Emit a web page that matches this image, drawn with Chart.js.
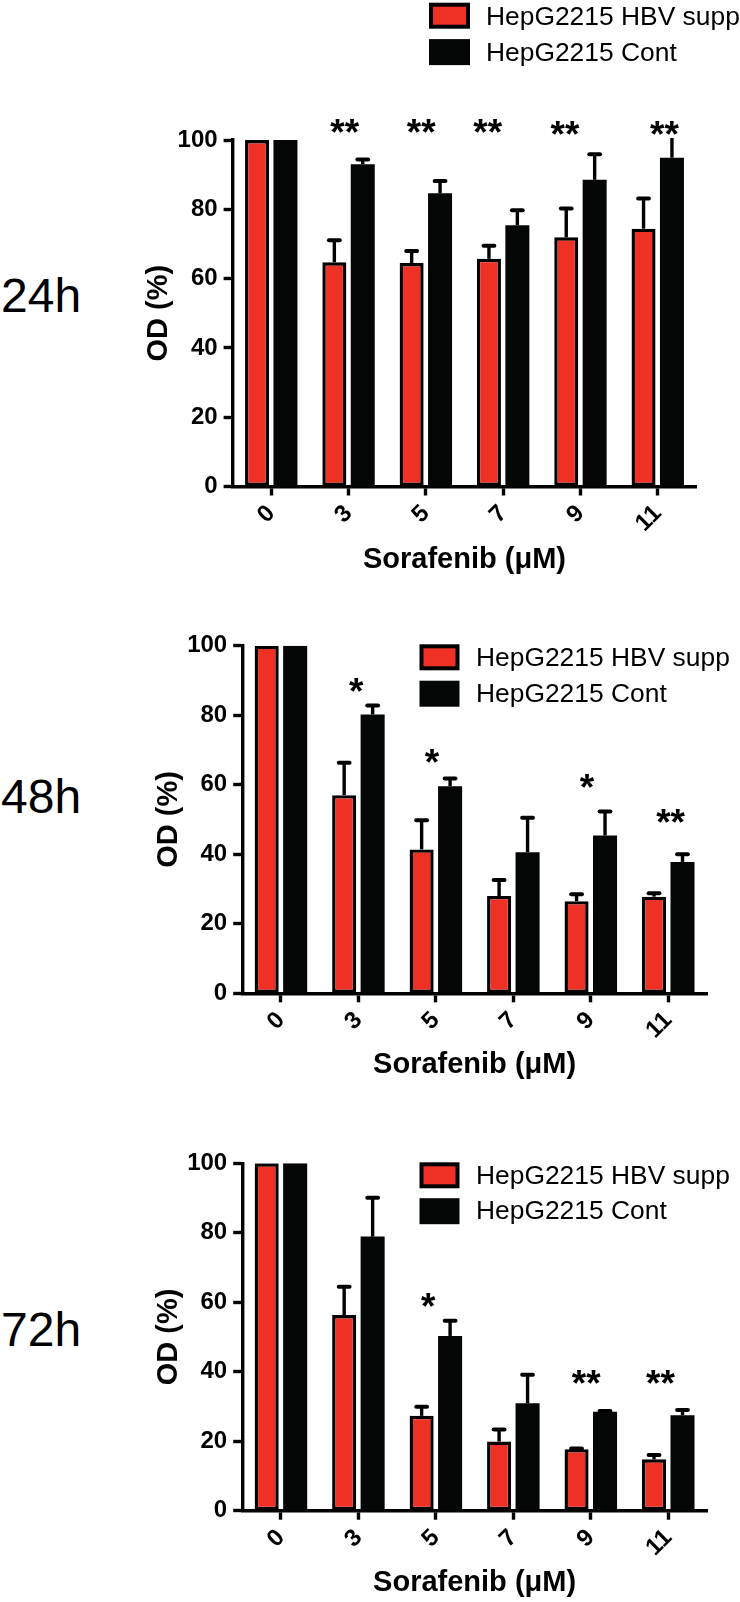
<!DOCTYPE html>
<html>
<head>
<meta charset="utf-8">
<script src="https://cdn.jsdelivr.net/npm/chart.js@4.4.1/dist/chart.umd.min.js"></script>
<style>
html,body{margin:0;padding:0;background:#fff;}
#wrap{position:relative;width:740px;height:1602px;overflow:hidden;background:#fff;}
canvas{position:absolute;left:0;top:0;}
.tlab{position:absolute;left:1px;font-family:'Liberation Sans',Arial,Helvetica,sans-serif;font-size:48px;line-height:48px;color:#000;white-space:nowrap;}
</style>
</head>
<body>
<div id="wrap">
  <div class="tlab" style="top:272px">24h</div>
  <div class="tlab" style="top:773px">48h</div>
  <div class="tlab" style="top:1306px">72h</div>
  <canvas id="c1" width="740" height="1602"></canvas>
  <canvas id="c2" width="740" height="1602"></canvas>
  <canvas id="c3" width="740" height="1602"></canvas>
</div>
<script>
// ---------- DATA ----------
const categories = ['0', '3', '5', '7', '9', '11'];
const seriesNames = ['HepG2215 HBV supp', 'HepG2215 Cont'];
const yTicks = [0, 20, 40, 60, 80, 100];

// 24h
const hbv24     = [100, 64.7, 64.5, 65.7, 71.9, 74.4];
const hbv24Err  = [0,   6.4,  3.5,  3.8,  8.3,  8.7];
const cont24    = [100, 93.0, 84.6, 75.4, 88.5, 94.9];
const cont24Err = [0,   1.4,  3.6,  4.3,  7.4,  5.3];
const stars24      = ['', '**', '**', '**', '**', '**'];
const stars24Level = [null, 104.6, 104.6, 104.6, 103.8, 103.8];
const stars24Shift = [0, -0.05, -0.06, -0.2, -0.2, 0.087];

// 48h
const hbv48     = [100, 57.0, 41.4, 28.0, 26.5, 27.8];
const hbv48Err  = [0,   9.3,  8.4,  4.6,  2.0,  1.0];
const cont48    = [100, 80.2, 59.6, 40.6, 45.4, 37.8];
const cont48Err = [0,   2.6,  2.2,  9.9,  6.9,  2.2];
const stars48      = ['', '*', '*', '', '*', '**'];
const stars48Level = [null, 89.2, 68.6, null, 61.4, 51.5];
const stars48Shift = [0, -0.03, -0.05, 0, -0.05, 0.03];

// 72h
const hbv72     = [100, 56.3, 27.3, 19.9, 17.7, 14.8];
const hbv72Err  = [0,   8.2,  2.6,  3.5,  0.2,  1.2];
const cont72    = [100, 78.9, 50.3, 30.9, 28.5, 27.5];
const cont72Err = [0,   11.2, 4.4,  8.2,  0.2,  1.5];
const stars72      = ['', '', '*', '', '**', '**'];
const stars72Level = [null, null, 61.1, null, 38.9, 38.9];
const stars72Shift = [0, 0, -0.1, 0, -0.06, -0.1];

// ---------- STYLE ----------
const FAMILY = "'Liberation Sans', Arial, Helvetica, sans-serif";
const RED = '#EE3124';
const BLACK = '#050707';
const W = 740, H = 1602;
const YW = 100, XH = 91;

const errorBarsPlugin = {
  id: 'errorBars',
  afterDatasetsDraw(chart) {
    const ctx = chart.ctx, ys = chart.scales.y;
    chart.data.datasets.forEach((ds, di) => {
      const meta = chart.getDatasetMeta(di);
      meta.data.forEach((bar, i) => {
        const e = ds.err ? ds.err[i] : 0;
        if (!e) return;
        const v = ds.data[i];
        const topV = v + e;
        const clipped = topV > ys.max;
        const p0 = ys.getPixelForValue(v);
        const p1 = ys.getPixelForValue(clipped ? ys.max : topV) - (clipped ? 2 : 0);
        ctx.save();
        ctx.strokeStyle = '#000';
        ctx.lineWidth = 3.4;
        ctx.beginPath();
        ctx.moveTo(bar.x, p0);
        ctx.lineTo(bar.x, p1);
        ctx.stroke();
        if (!clipped) {
          ctx.lineWidth = 4;
          ctx.lineCap = 'round';
          ctx.beginPath();
          ctx.moveTo(bar.x - 5.4, p1);
          ctx.lineTo(bar.x + 5.4, p1);
          ctx.stroke();
        }
        ctx.restore();
      });
    });
  }
};

const boxLegendPlugin = {
  id: 'boxLegend',
  afterDraw(chart, args, o) {
    const ctx = chart.ctx;
    ctx.save();
    chart.data.datasets.forEach((ds, i) => {
      const top = o.y + i * o.gap;
      ctx.fillStyle = ds.borderColor;
      ctx.fillRect(o.x, top, o.w, o.h);
      ctx.fillStyle = ds.backgroundColor;
      ctx.fillRect(o.x + o.bw, top + o.bw, o.w - 2 * o.bw, o.h - 2 * o.bw);
      ctx.fillStyle = '#000';
      ctx.font = o.size + 'px ' + FAMILY;
      ctx.textAlign = 'left';
      ctx.textBaseline = 'alphabetic';
      ctx.fillText(ds.label, o.x + o.tx, top + o.base);
    });
    ctx.restore();
  }
};

const starsPlugin = {
  id: 'stars',
  afterDraw(chart, args, o) {
    const ctx = chart.ctx, xs = chart.scales.x, ys = chart.scales.y;
    const step = xs.getPixelForValue(1) - xs.getPixelForValue(0);
    ctx.save();
    ctx.fillStyle = '#000';
    ctx.font = 'bold ' + o.size + 'px ' + FAMILY;
    ctx.textAlign = 'center';
    ctx.textBaseline = 'alphabetic';
    o.labels.forEach((t, i) => {
      if (!t || o.levels[i] == null) return;
      const x = xs.getPixelForValue(i) + (o.shift[i] || 0) * step;
      const y = ys.getPixelForValue(o.levels[i]) + 0.555 * o.size;
      ctx.fillText(t, x, y);
    });
    ctx.restore();
  }
};

function makeChart(id, p) {
  return new Chart(document.getElementById(id), {
    type: 'bar',
    data: {
      labels: categories,
      datasets: [
        { label: seriesNames[0], data: p.hbv, err: p.hbvErr, backgroundColor: RED,
          borderColor: '#000', borderWidth: 3.4, borderSkipped: false },
        { label: seriesNames[1], data: p.cont, err: p.contErr, backgroundColor: BLACK,
          borderColor: BLACK, borderWidth: 0, borderSkipped: false }
      ]
    },
    options: {
      responsive: false,
      animation: false,
      events: [],
      layout: { padding: { left: p.L - YW, right: W - p.R, top: p.T, bottom: H - p.B - XH } },
      datasets: { bar: { categoryPercentage: 0.735, barPercentage: 0.845 } },
      plugins: {
        legend: { display: false },
        tooltip: { enabled: false },
        boxLegend: p.legend,
        stars: { labels: p.stars, levels: p.starLevels, shift: p.starShift, size: 37 }
      },
      scales: {
        x: {
          grid: { display: true, drawOnChartArea: false, drawTicks: true, tickLength: 9,
                  tickWidth: 3.4, tickColor: '#000', color: '#000', offset: false },
          border: { display: true, color: '#000', width: 3.4 },
          ticks: { color: '#000', font: { family: FAMILY, size: 24, weight: 'bold' },
                   minRotation: 45, maxRotation: 45, autoSkip: false, padding: 4 },
          title: { display: true, text: 'Sorafenib (μM)', color: '#000',
                   font: { family: FAMILY, size: 29, weight: 'bold' },
                   padding: { top: 0, bottom: p.xtPad } },
          afterFit(s) { s.height = XH; }
        },
        y: {
          min: 0, max: 100,
          afterBuildTicks(s) { s.ticks = yTicks.map(v => ({ value: v })); },
          grid: { display: true, drawOnChartArea: false, drawTicks: true, tickLength: 9,
                  tickWidth: 3.4, tickColor: '#000', color: '#000' },
          border: { display: true, color: '#000', width: 3.4 },
          ticks: { color: '#000', font: { family: FAMILY, size: 24, weight: 'bold' }, padding: 6 },
          title: { display: true, text: 'OD (%)', color: '#000',
                   font: { family: FAMILY, size: 29, weight: 'bold' },
                   padding: { top: p.ytPad, bottom: 0 } },
          afterFit(s) { s.width = YW; }
        }
      }
    },
    plugins: [errorBarsPlugin, boxLegendPlugin, starsPlugin]
  });
}

makeChart('c1', {
  hbv: hbv24, hbvErr: hbv24Err, cont: cont24, contErr: cont24Err,
  stars: stars24, starLevels: stars24Level, starShift: stars24Shift,
  L: 232.6, R: 696.4, T: 140, B: 486.5, ytPad: 8.5, xtPad: 0.1,
  legend: { x: 429, y: 2.7, w: 41, h: 26, bw: 4, gap: 36.4, tx: 57, base: 22.3, size: 26.4 }
});
makeChart('c2', {
  hbv: hbv48, hbvErr: hbv48Err, cont: cont48, contErr: cont48Err,
  stars: stars48, starLevels: stars48Level, starShift: stars48Shift,
  L: 242.2, R: 707, T: 645.7, B: 993.3, ytPad: 9.1, xtPad: 1.9,
  legend: { x: 419.5, y: 644.3, w: 40, h: 26, bw: 4, gap: 36.4, tx: 56.5, base: 21.6, size: 26.4 }
});
makeChart('c3', {
  hbv: hbv72, hbvErr: hbv72Err, cont: cont72, contErr: cont72Err,
  stars: stars72, starLevels: stars72Level, starShift: stars72Shift,
  L: 242.2, R: 707, T: 1163.3, B: 1510.7, ytPad: 9.1, xtPad: 1.3,
  legend: { x: 419.5, y: 1162.3, w: 40, h: 26, bw: 4, gap: 35.9, tx: 56.5, base: 21.2, size: 26.4 }
});
</script>
</body>
</html>
